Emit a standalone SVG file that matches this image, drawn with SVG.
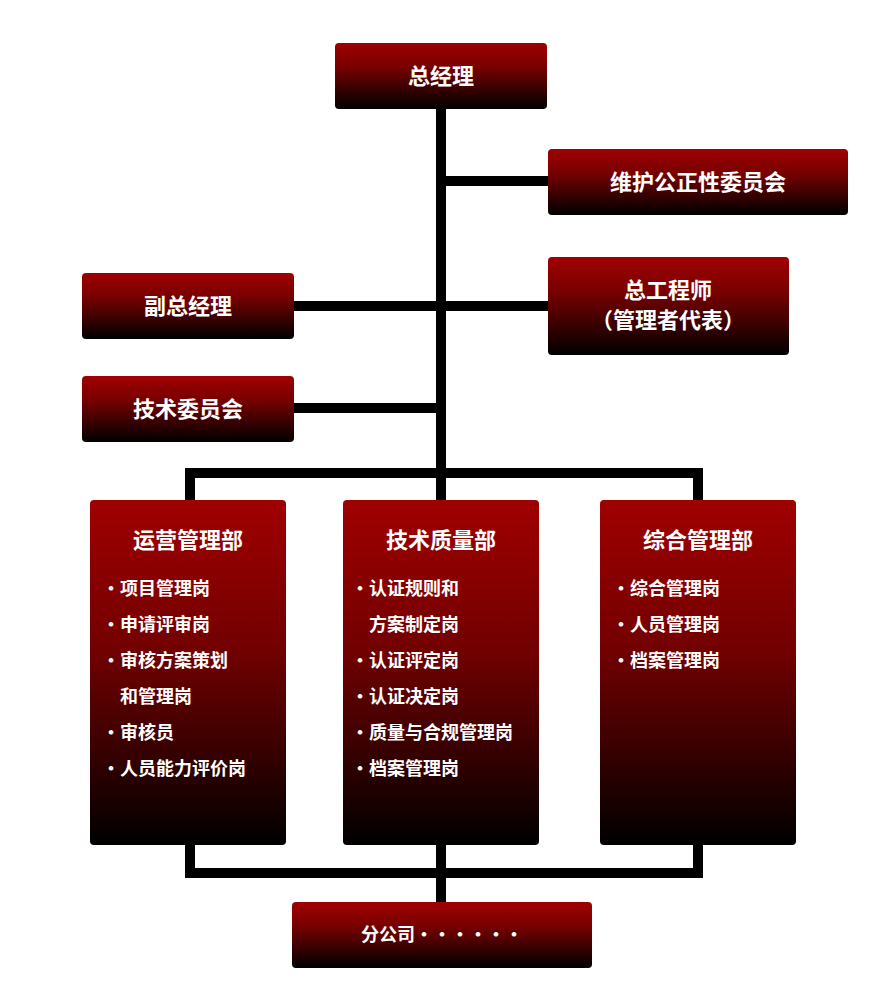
<svg xmlns="http://www.w3.org/2000/svg" width="881" height="1000" viewBox="0 0 881 1000">
<defs>
<linearGradient id="g" x1="0" y1="0" x2="0" y2="1"><stop offset="0" stop-color="#a00000"/><stop offset="0.35" stop-color="#7a0000"/><stop offset="1" stop-color="#000"/></linearGradient>
<linearGradient id="gt" x1="0" y1="0" x2="0" y2="1"><stop offset="0" stop-color="#a00000"/><stop offset="0.45" stop-color="#700000"/><stop offset="1" stop-color="#000"/></linearGradient>
</defs>
<style>
rect{fill:url(#g)}
.tall{fill:url(#gt)}
text{fill:#fff;font-family:"Noto Sans CJK SC","Liberation Serif",serif;font-weight:bold}
.t{font-size:22px;text-anchor:middle}
.i{font-size:18px}
.c line{stroke:#000;stroke-width:10}
</style>
<rect width="881" height="1000" style="fill:#fff"/>
<g class="c" id="connectors">
<line x1="441" y1="109" x2="441" y2="473"/>
<line x1="441" y1="181" x2="548" y2="181"/>
<line x1="294" y1="306" x2="548" y2="306"/>
<line x1="294" y1="408" x2="441" y2="408"/>
<line x1="185" y1="473" x2="703" y2="473"/>
<line x1="190" y1="468" x2="190" y2="500"/>
<line x1="698" y1="468" x2="698" y2="500"/>
<line x1="441" y1="473" x2="441" y2="500"/>
<line x1="185" y1="873" x2="703" y2="873"/>
<line x1="190" y1="845" x2="190" y2="878"/>
<line x1="698" y1="845" x2="698" y2="878"/>
<line x1="441" y1="845" x2="441" y2="902"/>
</g>
<g id="n1"><rect x="335" y="43" width="212" height="66" rx="4"/><text class="t" x="441" y="84">总经理</text></g>
<g id="n2"><rect x="548" y="149" width="300" height="66" rx="4"/><text class="t" x="698" y="190">维护公正性委员会</text></g>
<g id="n3"><rect x="82" y="273" width="212" height="66" rx="4"/><text class="t" x="188" y="314">副总经理</text></g>
<g id="n4"><rect x="548" y="257" width="241" height="98" rx="4"/><text class="t" x="668" y="298">总工程师</text><text class="t" x="668" y="328">（管理者代表）</text></g>
<g id="n5"><rect x="82" y="376" width="212" height="66" rx="4"/><text class="t" x="188" y="417">技术委员会</text></g>
<g id="n6"><rect class="tall" x="90" y="500" width="196" height="345" rx="4"/><text class="t" x="188" y="548">运营管理部</text>
<text class="i" x="102" y="595">・项目管理岗</text><text class="i" x="102" y="631">・申请评审岗</text><text class="i" x="102" y="667">・审核方案策划</text><text class="i" x="120" y="703">和管理岗</text><text class="i" x="102" y="739">・审核员</text><text class="i" x="102" y="775">・人员能力评价岗</text></g>
<g id="n7"><rect class="tall" x="343" y="500" width="196" height="345" rx="4"/><text class="t" x="441" y="548">技术质量部</text>
<text class="i" x="351" y="595">・认证规则和</text><text class="i" x="369" y="631">方案制定岗</text><text class="i" x="351" y="667">・认证评定岗</text><text class="i" x="351" y="703">・认证决定岗</text><text class="i" x="351" y="739">・质量与合规管理岗</text><text class="i" x="351" y="775">・档案管理岗</text></g>
<g id="n8"><rect class="tall" x="600" y="500" width="196" height="345" rx="4"/><text class="t" x="698" y="548">综合管理部</text>
<text class="i" x="612" y="595">・综合管理岗</text><text class="i" x="612" y="631">・人员管理岗</text><text class="i" x="612" y="667">・档案管理岗</text></g>
<g id="n9"><rect x="292" y="902" width="300" height="66" rx="4"/><text class="i" x="442" y="941" text-anchor="middle">分公司・・・・・・</text></g>
</svg>
